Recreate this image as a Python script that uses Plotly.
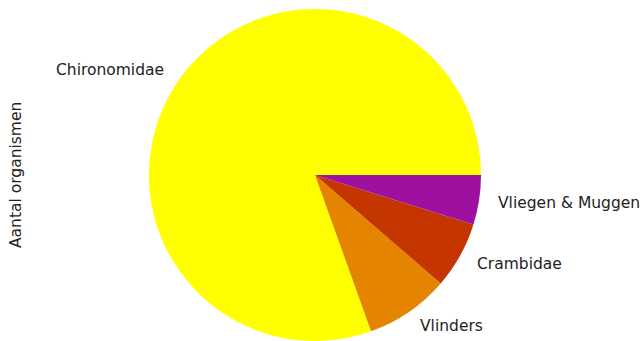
import numpy as np
import plotly.graph_objects as go

labels = ["Chironomidae", "Vlinders", "Crambidae", "Vliegen & Muggen"]
counts = [167, 17, 13.5, 10]
colors = ["#FFFF00", "#E48400", "#C43500", "#A0109F"]
ylabel = "Aantal organismen"

W, H = 642, 341
cx, cy, r = 315, 175, 166  # pie centre / radius in pixels

tot = sum(counts)
# plotly counterclockwise: first slice ends at `rotation`; start it at 3 o'clock like matplotlib
rot = 90 - 360 * counts[0] / tot

fig = go.Figure(go.Pie(
    labels=labels, values=counts, sort=False,
    direction="counterclockwise", rotation=rot,
    marker=dict(colors=colors, line=dict(width=0)),
    textinfo="none", hoverinfo="label+value", showlegend=False,
    domain=dict(x=[(cx - r) / W, (cx + r) / W], y=[(H - cy - r) / H, (H - cy + r) / H]),
))

# labels like matplotlib: at 1.1 radius, mid angle of each wedge
start = 0.0
for lab, v in zip(labels, counts):
    mid = np.deg2rad((start + v / tot * 360 / 2))
    start += v / tot * 360
    px = cx + 1.1 * r * np.cos(mid)
    py = cy - 1.1 * r * np.sin(mid)
    fig.add_annotation(x=px / W, y=1 - py / H, xref="paper", yref="paper",
                       text=lab, showarrow=False,
                       xanchor="left" if np.cos(mid) > 0 else "right",
                       yanchor="middle")

fig.add_annotation(x=16 / W, y=1 - 175 / H, xref="paper", yref="paper",
                   text=ylabel, textangle=-90, showarrow=False,
                   xanchor="center", yanchor="middle")

fig.update_layout(
    width=W, height=H,
    margin=dict(l=0, r=0, t=0, b=0),
    paper_bgcolor="white", plot_bgcolor="white",
    font=dict(family="DejaVu Sans", size=15.5, color="#222222"),
)

# drop the default page margin so the figure sits at 0,0 without scrollbars
fig.write_html("out.html", config={"displayModeBar": False},
               post_script="document.body.style.margin='0';document.body.style.overflow='hidden';")
